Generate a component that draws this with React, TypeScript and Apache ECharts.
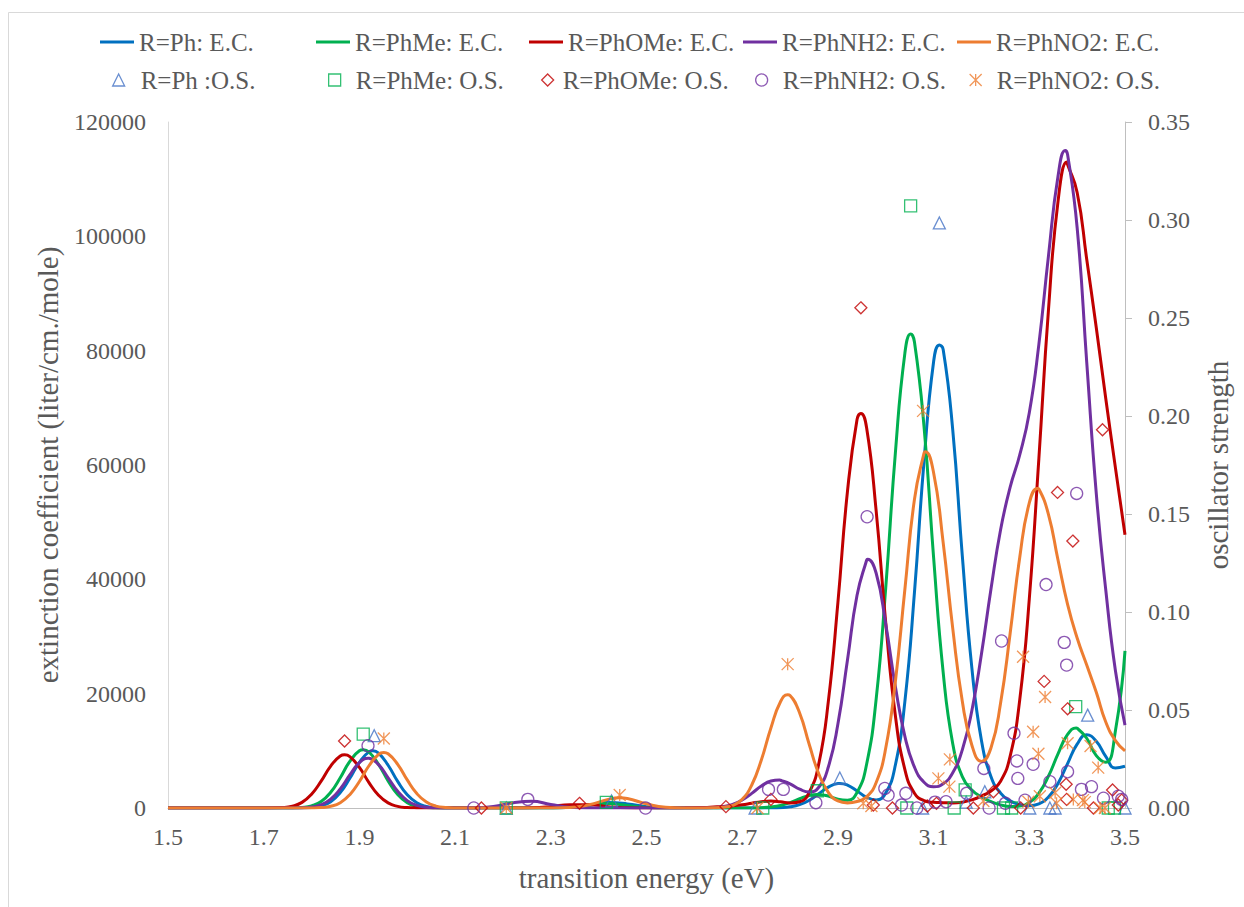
import React, { useEffect, useRef } from 'react';
import * as echarts from 'echarts';

const FONT = 'Liberation Serif';
const TXT = '#595959';

// transition energy grid (eV) for the extinction coefficient curves
const energy = [
  1.5, 1.6, 1.7, 1.74, 1.76, 1.78, 1.8, 1.82, 1.84, 1.86, 1.88, 1.9, 1.92, 1.94, 1.96, 1.98, 2.0, 2.02, 2.04, 2.06, 2.08, 2.1,
  2.14, 2.18, 2.22, 2.26, 2.3, 2.34, 2.38, 2.42, 2.46, 2.5, 2.54, 2.58, 2.62,
  2.64, 2.66, 2.68, 2.7, 2.72, 2.74, 2.76, 2.78, 2.8, 2.82, 2.84, 2.86, 2.88, 2.9, 2.92, 2.94, 2.96, 2.98,
  3.0, 3.02, 3.04, 3.06, 3.08, 3.1, 3.12, 3.14, 3.16, 3.18, 3.2, 3.22, 3.24, 3.26, 3.28, 3.3, 3.32, 3.34, 3.36, 3.38, 3.4, 3.42, 3.44, 3.46, 3.48, 3.5,
];

// extinction coefficient (liter/cm./mole)
const ecPh = [
  0, 0, 0, 0, 3, 20, 96, 370, 1110, 2700, 5200, 8000, 9820, 9600, 7480, 4650, 2300, 910, 285, 72, 14, 0,
  0, 0, 0, 0, 10, 113, 515, 956, 713, 214, 26, 2, 0,
  0, 0, 0, 0, 0, 2, 12, 55, 200, 580, 1350, 2490, 3650, 4280, 4000, 2990, 1880, 1420,
  2630, 7470, 18650, 37700, 60680, 78070, 80220, 66160, 44110, 24470, 11810, 5480, 2610, 1250, 590, 390, 730, 1920, 4300, 7770, 11160, 12800, 11670, 9000, 7000, 7300,
];
const ecPhMe = [
  0, 0, 0, 3, 20, 98, 373, 1130, 2750, 5300, 8170, 10020, 9790, 7630, 4740, 2350, 930, 290, 73, 14, 0, 0,
  0, 0, 0, 1, 17, 152, 540, 776, 451, 105, 10, 0, 0,
  0, 0, 0, 2, 12, 50, 167, 445, 947, 1614, 2190, 2373, 2070, 1530, 1364, 2700, 7660, 19100,
  38560, 62010, 79580, 81510, 66700, 43830, 23740, 11250, 5490, 3140, 1950, 1115, 540, 271, 350, 985, 2600, 5560, 9470, 12860, 13950, 12200, 9160, 7990, 13500, 27500,
];
const ecPhOMe = [
  0, 0, 3, 84, 316, 986, 2410, 4706, 7330, 9090, 8980, 7090, 4450, 2230, 890, 284, 72, 15, 0, 0, 0, 0,
  0, 0, 4, 38, 234, 580, 580, 234, 38, 5, 2, 23, 109,
  180, 260, 374, 565, 840, 1100, 1210, 1090, 895, 1090, 2715, 7720, 18640, 35920, 55370, 67950, 66520, 51940,
  32375, 16230, 6720, 2590, 1300, 996, 928, 879, 1020, 1425, 2100, 2975, 4684, 9070, 18920, 36600, 61130, 87040, 106080, 112570, 107680, 96000, 84000, 71500, 59500, 47800,
];
const ecPhNH2 = [
  0, 0, 0, 1, 7, 39, 168, 574, 1550, 3350, 5780, 7930, 8690, 7590, 5280, 2920, 1296, 456, 128, 29, 5, 2,
  34, 274, 890, 1170, 620, 132, 11, 0, 0, 0, 0, 0, 15,
  66, 226, 626, 1405, 2563, 3832, 4727, 4857, 4216, 3292, 2780, 3628, 7177, 14690, 25885, 37200, 43340, 41067,
  32125, 21290, 12532, 7140, 4512, 3704, 4228, 6155, 10176, 17042, 26938, 38338, 48683, 56125, 61756, 69153, 81110, 96550, 110500, 114300, 101500, 78000, 55000, 38000, 24000, 14500,
];
const ecPhNO2 = [
  0, 0, 0, 0, 0, 2, 15, 75, 296, 930, 2330, 4640, 7390, 9370, 9480, 7640, 4910, 2520, 1030, 335, 87, 18,
  0, 0, 0, 0, 5, 83, 557, 1511, 1655, 732, 131, 9, 0,
  22, 113, 466, 1526, 4023, 8404, 14010, 18590, 19680, 16610, 11160, 5986, 2728, 1240, 895, 1126, 1966, 4450,
  10480, 22030, 38270, 53990, 62086, 58650, 46420, 31410, 18680, 10990, 8128, 10530, 18376, 30570, 43830, 53385, 55800, 51380, 43385, 35630, 29750, 25000, 20250, 15000, 11800, 10000,
];

// peak tops (energy, extinction coefficient)
const peaksPh = [[1.928, 10000], [2.904, 4300], [3.112, 81000]];
const peaksPhMe = [[1.908, 10200], [2.857, 2380], [3.052, 82900], [3.398, 14000]];
const peaksPhOMe = [[1.869, 9300], [2.948, 69000], [3.378, 113000]];
const peaksPhNH2 = [[1.918, 8700], [2.778, 4900], [2.962, 43500], [3.375, 115000]];
const peaksPhNO2 = [[1.951, 9700], [2.444, 1780], [2.795, 19800], [3.083, 62300], [3.317, 55900]];

// oscillator strengths (energy, f)
const osPh = [
  [1.931, 0.0369], [2.207, 0], [2.427, 0.0036], [2.727, 0], [2.904, 0.0153], [3.077, 0], [3.112, 0.2985],
  [3.168, 0.003], [3.207, 0.0083], [3.301, 0], [3.343, 0], [3.354, 0], [3.422, 0.0474], [3.5, 0],
];
const osPhMe = [
  [1.908, 0.0377], [2.207, 0], [2.416, 0.0029], [2.743, 0], [2.857, 0.0088], [3.044, 0], [3.052, 0.3072],
  [3.143, 0], [3.166, 0.0092], [3.246, 0], [3.263, 0], [3.397, 0.0517], [3.465, 0], [3.478, 0],
];
const osPhOMe = [
  [1.869, 0.0342], [2.155, 0], [2.36, 0.0024], [2.666, 0.0007], [2.76, 0.0044], [2.948, 0.2552], [2.974, 0.0015],
  [3.014, 0], [3.087, 0.001], [3.106, 0.0024], [3.183, 0], [3.225, 0.0083], [3.282, 0], [3.331, 0.0646],
  [3.359, 0.161], [3.377, 0.0121], [3.378, 0.0044], [3.38, 0.0506], [3.391, 0.1362], [3.434, 0], [3.453, 0.193],
  [3.474, 0.0092], [3.486, 0.0015], [3.493, 0.004],
];
const osPhNH2 = [
  [1.918, 0.0318], [2.139, 0], [2.252, 0.0044], [2.498, 0], [2.755, 0.0095], [2.786, 0.0095], [2.854, 0.0027],
  [2.961, 0.1486], [2.998, 0.01], [3.005, 0.0066], [3.033, 0.0015], [3.042, 0.0075], [3.065, 0], [3.103, 0.003],
  [3.126, 0.0032], [3.169, 0.0075], [3.205, 0.0202], [3.216, 0], [3.242, 0.0852], [3.25, 0.0024], [3.268, 0.0381],
  [3.274, 0.024], [3.276, 0.0151], [3.291, 0.004], [3.308, 0.0223], [3.335, 0.114], [3.343, 0.0134], [3.373, 0.0845],
  [3.378, 0.0729], [3.38, 0.0185], [3.399, 0.1605], [3.409, 0.0095], [3.43, 0.0109], [3.455, 0.005], [3.486, 0.006],
  [3.493, 0.0044],
];
const osPhNO2 = [
  [1.951, 0.0355], [2.207, 0], [2.444, 0.0066], [2.732, 0], [2.795, 0.0734], [2.953, 0.0024], [2.97, 0.001],
  [3.078, 0.2026], [3.11, 0.0151], [3.133, 0.0109], [3.134, 0.0248], [3.204, 0.0036], [3.287, 0.0772], [3.298, 0.0032],
  [3.308, 0.0389], [3.319, 0.0277], [3.322, 0.006], [3.333, 0.0566], [3.354, 0.0078], [3.357, 0.0024], [3.38, 0.033],
  [3.392, 0.0044], [3.412, 0.004], [3.416, 0.003], [3.428, 0.0316], [3.444, 0.0206], [3.448, 0], [3.458, 0],
];

const ecNames = ['R=Ph: E.C.', 'R=PhMe: E.C.', 'R=PhOMe: E.C.', 'R=PhNH2: E.C.', 'R=PhNO2: E.C.'];
const osNames = ['R=Ph :O.S.', 'R=PhMe: O.S.', 'R=PhOMe: O.S.', 'R=PhNH2: O.S.', 'R=PhNO2: O.S.'];
const lineColors = ['#0070C0', '#00B050', '#C00000', '#7030A0', '#ED7D31'];
const markerColors = ['#4472C4', '#00B050', '#C00000', '#7030A0', '#ED7D31'];
const markerSymbols = ['triangle', 'rect', 'diamond', 'circle', 'path://M0,0L10,10M0,10L10,0M5,0L5,10'];

const xTicks = { min: 1.5, max: 3.5, step: 0.2 };
const ecTicks = { min: 0, max: 120000, step: 20000 };
const osTicks = { min: 0, max: 0.35, step: 0.05 };

function merge(grid: number[], vals: number[], extra: number[][]) {
  const pts = grid.map((x, i) => [x, vals[i]]);
  extra.forEach((p) => pts.push(p));
  pts.sort((a, b) => a[0] - b[0]);
  return pts;
}

const ecSets = [
  merge(energy, ecPh, peaksPh),
  merge(energy, ecPhMe, peaksPhMe),
  merge(energy, ecPhOMe, peaksPhOMe),
  merge(energy, ecPhNH2, peaksPhNH2),
  merge(energy, ecPhNO2, peaksPhNO2),
];
const osSets = [osPh, osPhMe, osPhOMe, osPhNH2, osPhNO2];

const lineLegendLeft = [100, 316, 529, 743, 957];
const markerCenters = [118, 334, 547, 761, 975];
const markerTextStart = [140, 355, 562, 782, 996];

export default function App() {
  const ref = useRef<HTMLDivElement>(null);
  useEffect(() => {
    const chart = echarts.init(ref.current!, null, { renderer: 'svg' });
    const legendText = { fontFamily: FONT, fontSize: 25, color: TXT, lineHeight: 26 };
    const legends: any[] = [];
    ecNames.forEach((n, i) => {
      legends.push({
        data: [n], left: lineLegendLeft[i], top: 29, padding: 0, selectedMode: false,
        icon: 'rect', itemWidth: 34, itemHeight: 3, textStyle: legendText,
      });
    });
    osNames.forEach((n, i) => {
      legends.push({
        data: [n], left: markerCenters[i] - 6, top: 67, padding: 0, selectedMode: false,
        itemWidth: 12, itemHeight: 12,
        itemStyle: { borderWidth: 1.3 },
        textStyle: { ...legendText, padding: [0, 0, 0, markerTextStart[i] - markerCenters[i] - 6 - 5] },
      });
    });
    const series: any[] = [];
    ecNames.forEach((n, i) => {
      series.push({
        name: n, type: 'line', data: ecSets[i], yAxisIndex: 0, smooth: true, showSymbol: false, symbol: 'none',
        color: lineColors[i], lineStyle: { color: lineColors[i], width: 3 }, z: 2,
      });
    });
    osNames.forEach((n, i) => {
      series.push({
        name: n, type: 'scatter', data: osSets[i], yAxisIndex: 1, symbol: markerSymbols[i], symbolSize: 12,
        color: markerColors[i],
        itemStyle: { color: 'rgba(0,0,0,0)', borderColor: markerColors[i], borderWidth: 1.3 }, z: 3,
      });
    });
    chart.setOption({
      animation: false,
      backgroundColor: '#ffffff',
      textStyle: { fontFamily: FONT, color: TXT },
      grid: { left: 168, right: 119, top: 122, bottom: 99, containLabel: false },
      legend: legends,
      graphic: [
        {
          type: 'rect', silent: true, z: -10,
          shape: { x: 8.5, y: 12.5, width: 1240, height: 900 },
          style: { fill: 'none', stroke: '#d9d9d9', lineWidth: 1 },
        },
      ],
      xAxis: {
        type: 'value', min: xTicks.min, max: xTicks.max, interval: xTicks.step,
        axisLine: { show: true, onZero: false, lineStyle: { color: '#bfbfbf', width: 1 } },
        axisTick: { show: false }, splitLine: { show: false },
        axisLabel: { formatter: (v: number) => v.toFixed(1), fontFamily: FONT, fontSize: 24, color: TXT, margin: 17 },
        name: 'transition energy (eV)', nameLocation: 'middle', nameGap: 55,
        nameTextStyle: { fontFamily: FONT, fontSize: 29, color: TXT },
      },
      yAxis: [
        {
          type: 'value', position: 'left', min: ecTicks.min, max: ecTicks.max, interval: ecTicks.step,
          axisLine: { show: true, lineStyle: { color: '#d9d9d9', width: 1 } },
          axisTick: { show: false }, splitLine: { show: false },
          axisLabel: { formatter: (v: number) => String(Math.round(v)), fontFamily: FONT, fontSize: 24, color: TXT, margin: 22 },
          name: 'extinction coefficient (liter/cm./mole)', nameLocation: 'middle', nameGap: 106,
          nameTextStyle: { fontFamily: FONT, fontSize: 29, color: TXT },
        },
        {
          type: 'value', position: 'right', min: osTicks.min, max: osTicks.max, interval: osTicks.step,
          axisLine: { show: true, lineStyle: { color: '#bfbfbf', width: 1 } },
          axisTick: { show: true, length: 7, lineStyle: { color: '#bfbfbf' } }, splitLine: { show: false },
          axisLabel: { formatter: (v: number) => v.toFixed(2), fontFamily: FONT, fontSize: 24, color: TXT, margin: 23 },
          name: 'oscillator strength', nameLocation: 'middle', nameGap: 78,
          nameTextStyle: { fontFamily: FONT, fontSize: 29, color: TXT },
        },
      ],
      series,
    });
    return () => chart.dispose();
  }, []);
  return (
    <div
      ref={ref}
      style={{ position: 'absolute', left: 0, top: 0, width: 1244, height: 907, background: '#fff' }}
    />
  );
}
